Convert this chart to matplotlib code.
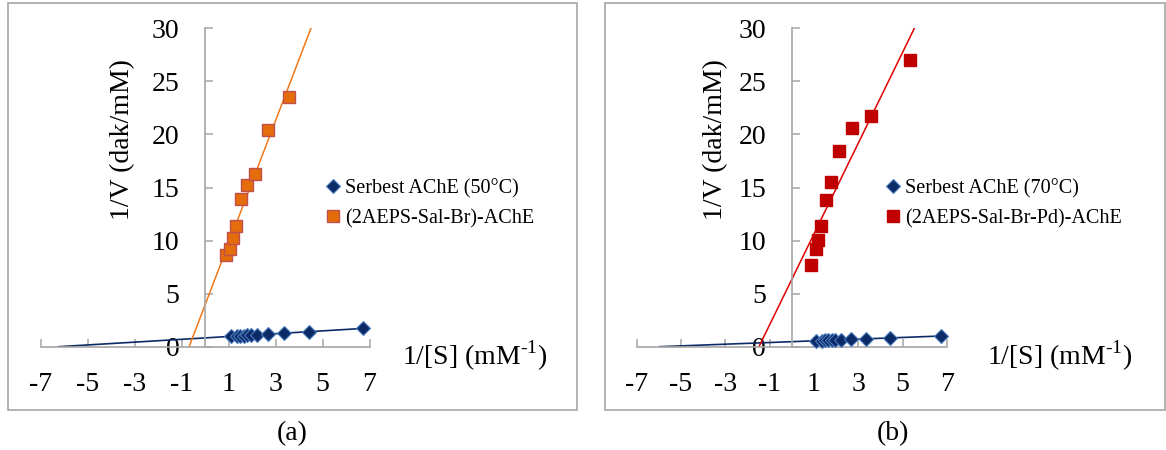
import numpy as np
import matplotlib
matplotlib.use("Agg")
import matplotlib.pyplot as plt
from matplotlib.patches import Rectangle
from matplotlib.lines import Line2D

plt.rcParams["font.family"] = ["Liberation Serif", "DejaVu Serif"]
plt.rcParams["mathtext.fontset"] = "custom"
plt.rcParams["mathtext.rm"] = "Liberation Serif"
plt.rcParams["axes.unicode_minus"] = False

# Lineweaver-Burk data: 1/[S] (mM^-1) vs 1/V (dak/mM)
inv_s_free = [1.10, 1.35, 1.50, 1.65, 1.80, 1.95, 2.21, 2.66, 3.35, 4.43, 6.72]
free_50 = [0.97, 1.02, 1.04, 1.03, 1.06, 1.09, 1.12, 1.18, 1.27, 1.42, 1.72]
free_70 = [0.55, 0.57, 0.59, 0.61, 0.62, 0.63, 0.66, 0.69, 0.74, 0.83, 1.00]

inv_s_br = [0.88, 1.06, 1.18, 1.32, 1.53, 1.79, 2.13, 2.69, 3.57]
immob_br = [8.6, 9.25, 10.2, 11.4, 13.9, 15.2, 16.3, 20.4, 23.5]

inv_s_pd = [0.87, 1.08, 1.20, 1.32, 1.55, 1.77, 2.12, 2.71, 3.56, 5.35]
immob_pd = [7.72, 9.22, 10.06, 11.4, 13.8, 15.5, 18.4, 20.6, 21.7, 27.0]

free_labels = ["Serbest AChE (50\u00b0C)", "Serbest AChE (70\u00b0C)"]
immob_labels = ["(2AEPS-Sal-Br)-AChE", "(2AEPS-Sal-Br-Pd)-AChE"]
panel_labels = ["(a)", "(b)"]

x_ticks = [-7, -5, -3, -1, 1, 3, 5, 7]
y_ticks = [0, 5, 10, 15, 20, 25, 30]

W, H = 1166, 450
fig = plt.figure(figsize=(W / 100, H / 100), dpi=100)

AXIS_GRAY = "#A6A6A6"
NAVY = "#0C2A66"
NAVY_EDGE = "#4A7CC0"
BIG = 20


def px_rect(x0, x1, y_top, y_bot):
    return [x0 / W, 1 - y_bot / H, (x1 - x0) / W, (y_bot - y_top) / H]


def trend(x, y, y_stop=None):
    """Least-squares line, extended back to the 1/[S] intercept."""
    m, b = np.polyfit(x, y, 1)
    x_start = -b / m
    x_end = (y_stop - b) / m if y_stop is not None else max(x)
    xs = np.array([x_start, x_end])
    return xs, m * xs + b


def style_axes(ax):
    ax.set_xlim(-7, 7)
    ax.set_ylim(0, 30)
    ax.patch.set_alpha(0)
    for s in ("top", "right"):
        ax.spines[s].set_visible(False)
    ax.spines["left"].set_position(("data", 0))
    for s in ("left", "bottom"):
        ax.spines[s].set_color(AXIS_GRAY)
        ax.spines[s].set_linewidth(1.2)
    ax.set_xticks(x_ticks)
    ax.set_yticks(y_ticks)
    ax.tick_params(direction="in", length=6, width=1.1, color=AXIS_GRAY,
                   labelsize=BIG)
    ax.tick_params(axis="y", pad=18.5)
    ax.tick_params(axis="x", pad=18)


panels = [
    dict(rect=px_rect(40.5, 369.5, 28.3, 346.7), free=free_50,
         ix=inv_s_br, iy=immob_br, fill="#E46C0A", edge="#C0504D",
         line="#F07818", leg=(327, 179), ylab=(123, 140), xlab=(402, 365),
         cap=(292, 440), frame=(8, 577)),
    dict(rect=px_rect(636.5, 946.9, 28.3, 346.7), free=free_70,
         ix=inv_s_pd, iy=immob_pd, fill="#C00000", edge="#C00000",
         line="#E00000", leg=(887, 179), ylab=(716, 140), xlab=(987, 365),
         cap=(893, 440), frame=(605, 1165)),
]

for i, p in enumerate(panels):
    ax = fig.add_axes(p["rect"])
    style_axes(ax)

    lx, ly = trend(inv_s_free, p["free"])
    ax.plot(lx, ly, color=NAVY, lw=1.2, zorder=2)
    tx, ty = trend(p["ix"], p["iy"], y_stop=30)
    ax.plot(tx, ty, color=p["line"], lw=1.1, zorder=2)

    ax.plot(inv_s_free, p["free"], "D", ms=7, mfc=NAVY, mec=NAVY_EDGE,
            mew=0.8, zorder=4, clip_on=False)
    ax.plot(p["ix"], p["iy"], "s", ms=8.8, mfc=p["fill"], mec=p["edge"],
            mew=1.0, zorder=4, clip_on=False)

    handles = [
        Line2D([], [], ls="none", marker="D", ms=7, mfc=NAVY,
               mec=NAVY_EDGE, mew=0.8),
        Line2D([], [], ls="none", marker="s", ms=8.8, mfc=p["fill"],
               mec=p["edge"], mew=1.0),
    ]
    lx0, ly0 = p["leg"]
    ax.legend(handles, [free_labels[i], immob_labels[i]], loc="upper left",
              bbox_to_anchor=(lx0 / W, 1 - ly0 / H),
              bbox_transform=fig.transFigure, frameon=False, fontsize=14.5,
              handlelength=0.6, handletextpad=0.3, borderpad=0,
              borderaxespad=0, labelspacing=0.52)

    fig.text(p["ylab"][0] / W, 1 - p["ylab"][1] / H, "1/V (dak/mM)",
             rotation=90, ha="center", va="center", fontsize=BIG)
    fig.text(p["xlab"][0] / W, 1 - p["xlab"][1] / H,
             "1/[S] (mM$^{\\mathregular{\u20101}}$)", ha="left",
             va="baseline", fontsize=BIG)
    fig.text(p["cap"][0] / W, 1 - p["cap"][1] / H, panel_labels[i],
             ha="center", va="baseline", fontsize=BIG)

    fx0, fx1 = p["frame"]
    fig.add_artist(Rectangle((fx0 / W, 40 / H), (fx1 - fx0) / W, 407 / H,
                             transform=fig.transFigure, fill=False,
                             ec=AXIS_GRAY, lw=1.2))

fig.savefig("out.png", dpi=100)
